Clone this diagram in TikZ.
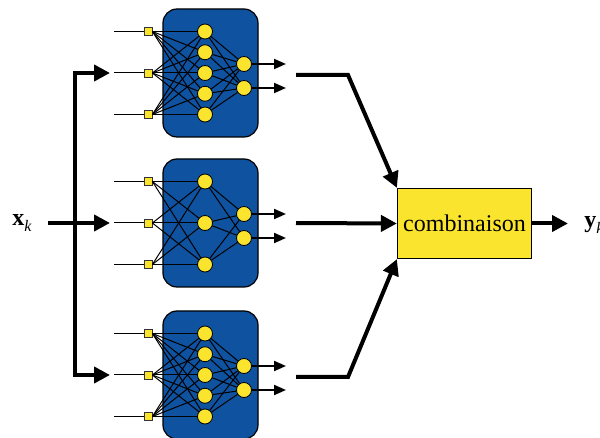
\documentclass[tikz,border=0pt]{standalone}
\usepackage{fontspec}
\setmainfont{Liberation Serif}
\usetikzlibrary{arrows.meta}
\definecolor{netblue}{RGB}{14,82,160}
\definecolor{cellyellow}{RGB}{250,228,45}

\begin{document}
\begin{tikzpicture}[x=0.5pt,y=-0.5pt,font=\fontsize{12}{14}\selectfont,
      inbox/.style={draw=black!80,fill=cellyellow,minimum size=4pt,inner sep=0pt,line width=0.4pt},
      neuron/.style={circle,draw=black,fill=cellyellow,minimum size=7.5pt,inner sep=0pt,line width=0.4pt},
      syn/.style={black,line width=0.5pt},
      bigarrow/.style={line width=2pt,-{Triangle[length=8pt,width=8pt]}},
      smallarrow/.style={line width=1pt,-{Triangle[length=6pt,width=5pt]}}]
      \useasboundingbox (0,0) rectangle (600,438);
      % three small networks
      \foreach \net/\c/\nh in {a/73/5,b/223/3,c/375/5} {
         \draw[fill=netblue,rounded corners=7pt,line width=0.6pt] (163,\c-64) rectangle (258,\c+64);
         \pgfmathsetmacro\hs{83/(\nh-1)}
         \foreach \k in {1,2,3} {\node[inbox] (i\net\k) at (148,\c-83+\k*41.5) {};}
         \foreach \j in {1,...,\nh} {\node[neuron] (h\net\j) at (205,\c-41.5+\j*\hs-\hs) {};}
         \node[neuron] (o\net1) at (244,\c-9) {};
         \node[neuron] (o\net2) at (244,\c+15) {};
         \foreach \k in {1,2,3} {
            \draw[syn] (114,\c-83+\k*41.5) -- (i\net\k);
            \foreach \j in {1,...,\nh} {\draw[syn] (i\net\k.east) -- (h\net\j);}
         }
         \foreach \j in {1,...,\nh} {\draw[syn] (h\net\j) -- (o\net1); \draw[syn] (h\net\j) -- (o\net2);}
         \draw[smallarrow] (o\net1) -- (286,\c-9);
         \draw[smallarrow] (o\net2) -- (286,\c+15);
      }
      % input distribution
      \node (xk) at (22,223) {\textbf{x}\raisebox{-0.5ex}{\footnotesize\textit{k}}};
      \coordinate (xin) at (48,223);
      \coordinate (split) at (75,223);
      \draw[bigarrow] (xin) -- (110,223);
      \draw[bigarrow] (split) |- (110,73);
      \draw[bigarrow] (split) |- (110,375);
      % combination
      \node[draw,fill=cellyellow,line width=0.6pt,minimum width=67pt,minimum height=35pt,inner sep=0pt] (comb) at (464.5,223.5) {combinaison};
      \draw[bigarrow] (296,75) -- (348,75) -- (comb.north west);
      \draw[bigarrow] (296,223) -- (comb.west);
      \draw[bigarrow] (296,377) -- (348,377) -- (comb.south west);
      \draw[bigarrow] (comb.east) -- (568,223.5);
      \node[anchor=west,inner sep=0pt] (yk) at (584,225) {\textbf{y}\raisebox{-0.5ex}{\footnotesize\textit{k}}};
\end{tikzpicture}
\end{document}
